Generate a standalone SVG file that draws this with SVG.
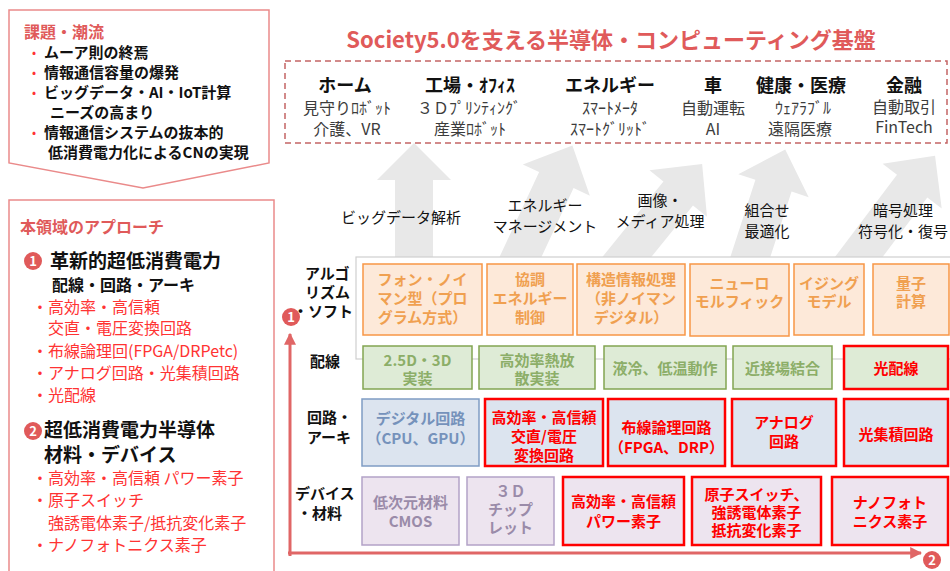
<svg xmlns="http://www.w3.org/2000/svg" width="950" height="571" viewBox="0 0 950 571">
<defs>
<style>
text{font-family:"Noto Sans CJK JP","Noto Sans",sans-serif}
.b{font-weight:bold}
.bk{fill:#111}
.rd{fill:#ff3333}
.hd{font-size:18px;font-weight:bold;fill:#111;text-anchor:middle}
.sb{font-size:16px;fill:#3c3c3c;text-anchor:middle}
.mid{font-size:15px;fill:#111;text-anchor:middle}
.lab{font-size:15px;font-weight:bold;fill:#111}
.box text{font-size:15px;font-weight:bold;text-anchor:middle}
.alg rect{fill:#fde9d9;stroke:#f79646;stroke-width:1.5}
.alg text{fill:#f0a050}
.wir rect{fill:#deebd6;stroke:#82a552;stroke-width:1.5}
.wir text{fill:#8cae68}
.cir rect{fill:#dce4ef;stroke:#7f9cc4;stroke-width:1.5}
.cir text{fill:#7592bb}
.dev rect{fill:#ede4ef;stroke:#b3a2c7;stroke-width:1.5}
.dev text{fill:#9a8ba9}
.box.hot rect{stroke:#ff0000;stroke-width:2.5}
.box.hot text{fill:#ff0000}
.flow{fill:#e8e8e8}
.axis{stroke:#e06666;stroke-width:3;fill:none}
.num{fill:#e05a5a}
.numt{fill:#fff;font-size:13px;font-weight:bold;text-anchor:middle}
</style>
<marker id="ah" viewBox="0 0 10 10" refX="9" refY="5" markerWidth="4" markerHeight="4" orient="auto">
<path d="M0,0 L10,5 L0,10 Z" fill="#e06666"/>
</marker>
</defs>
<rect width="950" height="571" fill="#ffffff"/>

<!-- top-left issues box -->
<g id="issues">
<path d="M9,10 H269 V163 L143,188 L9,163 Z" fill="#fff" stroke="#ea8a8a" stroke-width="1.5"/>
<text x="24" y="38" class="b" font-size="16" fill="#e05a5a">課題・潮流</text>
<g font-size="15" class="b bk">
<text x="44" y="58">ムーア則の終焉</text>
<text x="44" y="78">情報通信容量の爆発</text>
<text x="44" y="98">ビッグデータ・AI・IoT計算</text>
<text x="50" y="118">ニーズの高まり</text>
<text x="44" y="138">情報通信システムの抜本的</text>
<text x="48" y="158">低消費電力化によるCNの実現</text>
</g>
<g fill="#ff3333" font-size="12">
<text x="32" y="57">•</text>
<text x="32" y="77">•</text>
<text x="32" y="97">•</text>
<text x="32" y="137">•</text>
</g>
</g>

<!-- approach box -->
<g id="approach">
<rect x="9" y="200" width="265" height="380" fill="#fff" stroke="#ea8a8a" stroke-width="1.5"/>
<text x="20" y="233" font-size="16" class="b" fill="#e05a5a">本領域のアプローチ</text>
<circle cx="33" cy="261" r="9" class="num"/>
<text x="33" y="266" class="numt">1</text>
<text x="50" y="268" font-size="19" class="b bk">革新的超低消費電力</text>
<text x="52" y="291" font-size="16" class="b bk">配線・回路・アーキ</text>
<g font-size="16" class="rd">
<text x="32" y="313">・高効率・高信頼</text>
<text x="48" y="334">交直・電圧変換回路</text>
<text x="32" y="357">・布線論理回(FPGA/DRPetc)</text>
<text x="32" y="379">・アナログ回路・光集積回路</text>
<text x="32" y="401">・光配線</text>
</g>
<circle cx="33" cy="431" r="9" class="num"/>
<text x="33" y="436" class="numt">2</text>
<text x="44" y="437" font-size="19" class="b bk">超低消費電力半導体</text>
<text x="44" y="462" font-size="19" class="b bk">材料・デバイス</text>
<g font-size="16" class="rd">
<text x="32" y="484">・高効率・高信頼 パワー素子</text>
<text x="32" y="506">・原子スイッチ</text>
<text x="48" y="529">強誘電体素子/抵抗変化素子</text>
<text x="32" y="551">・ナノフォトニクス素子</text>
</g>
</g>

<!-- title -->
<text x="611" y="48" font-size="22" class="b" fill="#e05a5a" text-anchor="middle">Society5.0を支える半導体・コンピューティング基盤</text>

<!-- big flow arrows -->
<g id="flows" class="flow">
<path transform="translate(414,258)" d="M-19,20 V-78 H-37 L0,-115 L37,-78 H19 V20 Z"/>
<path transform="translate(520,258) rotate(25)" d="M-19,20 V-86 H-37 L0,-124 L37,-86 H19 V20 Z"/>
<path transform="translate(626,258) rotate(39)" d="M-19,20 V-83 H-37 L0,-121 L37,-83 H19 V20 Z"/>
<path transform="translate(750,258) rotate(18)" d="M-19,20 V-76 H-37 L0,-114 L37,-76 H19 V20 Z"/>
<path transform="translate(858,258) rotate(37)" d="M-19,20 V-90 H-37 L0,-128 L37,-90 H19 V20 Z"/>
</g>

<!-- application domains -->
<g id="domains">
<rect x="285" y="61" width="662" height="82" fill="none" stroke="#c46464" stroke-width="1.5" stroke-dasharray="6 4"/>
<g id="home"><text x="345" y="92" class="hd">ホーム</text><text x="347" y="114" class="sb">見守りﾛﾎﾞｯﾄ</text><text x="347" y="135" class="sb">介護、VR</text></g>
<g id="factory"><text x="470" y="92" class="hd">工場・ｵﾌｨｽ</text><text x="469" y="114" class="sb">３Ｄﾌﾟﾘﾝﾃｨﾝｸﾞ</text><text x="470" y="135" class="sb">産業ﾛﾎﾞｯﾄ</text></g>
<g id="energy"><text x="610" y="92" class="hd">エネルギー</text><text x="610" y="114" class="sb">ｽﾏｰﾄﾒｰﾀ</text><text x="610" y="135" class="sb">ｽﾏｰﾄｸﾞﾘｯﾄﾞ</text></g>
<g id="car"><text x="713" y="92" class="hd">車</text><text x="713" y="114" class="sb">自動運転</text><text x="713" y="135" class="sb">AI</text></g>
<g id="health"><text x="801" y="92" class="hd">健康・医療</text><text x="803" y="114" class="sb">ｳｪｱﾗﾌﾞﾙ</text><text x="800" y="135" class="sb">遠隔医療</text></g>
<g id="finance"><text x="904" y="92" class="hd">金融</text><text x="904" y="113" class="sb">自動取引</text><text x="904" y="133" class="sb">FinTech</text></g>
</g>

<!-- middle application labels -->
<g id="apps">
<text x="401" y="223" class="mid">ビッグデータ解析</text>
<text x="545" y="211" class="mid">エネルギー</text><text x="545" y="232" class="mid">マネージメント</text>
<text x="660" y="206" class="mid">画像・</text><text x="660" y="227" class="mid">メディア処理</text>
<text x="767" y="216" class="mid">組合せ</text><text x="767" y="237" class="mid">最適化</text>
<text x="903" y="216" class="mid">暗号処理</text><text x="903" y="237" class="mid">符号化・復号</text>
</g>

<!-- panel -->
<rect x="356" y="257" width="600" height="102" fill="#fff" stroke="#cfcfcf" stroke-width="1.2"/>

<!-- row labels -->
<g id="rowlabels" class="lab">
<text x="305" y="279">アルゴ</text>
<text x="305" y="298">リズム</text>
<text x="293" y="317">・ソフト</text>
<text x="310" y="367">配線</text>
<text x="307" y="423">回路・</text>
<text x="307" y="443">アーキ</text>
<text x="295" y="499">デバイス</text>
<text x="297" y="519">・材料</text>
</g>

<!-- algorithm row -->
<g id="a1" class="box alg"><rect x="363" y="264" width="119" height="71"/><text x="422.5" y="285">フォン・ノイ</text><text x="422.5" y="304">マン型（プロ</text><text x="422.5" y="323">グラム方式）</text></g>
<g id="a2" class="box alg"><rect x="487" y="264" width="86" height="71"/><text x="530" y="285">協調</text><text x="530" y="304">エネルギー</text><text x="530" y="323">制御</text></g>
<g id="a3" class="box alg"><rect x="577" y="264" width="108" height="71"/><text x="631" y="285">構造情報処理</text><text x="631" y="304">（非ノイマン</text><text x="631" y="323">デジタル）</text></g>
<g id="a4" class="box alg"><rect x="690" y="264" width="99" height="72"/><text x="739.5" y="289">ニューロ</text><text x="739.5" y="307">モルフィック</text></g>
<g id="a5" class="box alg"><rect x="794" y="264" width="70" height="71"/><text x="829" y="289">イジング</text><text x="829" y="307">モデル</text></g>
<g id="a6" class="box alg"><rect x="873" y="264" width="76" height="71"/><text x="911" y="289">量子</text><text x="911" y="307">計算</text></g>

<!-- wiring row -->
<g id="w1" class="box wir"><rect x="363" y="346" width="109" height="43"/><text x="417.5" y="366">2.5D・3D</text><text x="417.5" y="384">実装</text></g>
<g id="w2" class="box wir"><rect x="479" y="346" width="116" height="43"/><text x="537" y="366">高効率熱放</text><text x="537" y="384">散実装</text></g>
<g id="w3" class="box wir"><rect x="604" y="346" width="122" height="43"/><text x="665" y="374">液冷、低温動作</text></g>
<g id="w4" class="box wir"><rect x="733" y="346" width="99" height="43"/><text x="782.5" y="374">近接場結合</text></g>
<g id="w5" class="box wir hot"><rect x="844" y="346" width="104" height="43"/><text x="896" y="374">光配線</text></g>

<!-- circuit row -->
<g id="c1" class="box cir"><rect x="362" y="399" width="117" height="67"/><text x="420.5" y="424">デジタル回路</text><text x="420.5" y="444">（CPU、GPU）</text></g>
<g id="c2" class="box cir hot"><rect x="485" y="399" width="118" height="67"/><text x="544" y="423">高効率・高信頼</text><text x="544" y="442">交直/電圧</text><text x="544" y="461">変換回路</text></g>
<g id="c3" class="box cir hot"><rect x="608" y="399" width="117" height="67"/><text x="666.5" y="433">布線論理回路</text><text x="666.5" y="453">（FPGA、DRP）</text></g>
<g id="c4" class="box cir hot"><rect x="732" y="399" width="104" height="67"/><text x="784" y="428">アナログ</text><text x="784" y="447">回路</text></g>
<g id="c5" class="box cir hot"><rect x="844" y="399" width="104" height="67"/><text x="896" y="440">光集積回路</text></g>

<!-- device row -->
<g id="d1" class="box dev"><rect x="362" y="477" width="97" height="68"/><text x="410.5" y="508">低次元材料</text><text x="410.5" y="527">CMOS</text></g>
<g id="d2" class="box dev"><rect x="467" y="477" width="87" height="68"/><text x="510.5" y="497">３Ｄ</text><text x="510.5" y="515">チップ</text><text x="510.5" y="533">レット</text></g>
<g id="d3" class="box dev hot"><rect x="563" y="477" width="121" height="68"/><text x="623.5" y="507">高効率・高信頼</text><text x="623.5" y="527">パワー素子</text></g>
<g id="d4" class="box dev hot"><rect x="692" y="477" width="129" height="68"/><text x="756.5" y="500">原子スイッチ、</text><text x="756.5" y="518">強誘電体素子</text><text x="756.5" y="536">抵抗変化素子</text></g>
<g id="d5" class="box dev hot"><rect x="832" y="477" width="116" height="68"/><text x="890" y="508">ナノフォト</text><text x="890" y="527">ニクス素子</text></g>

<!-- connectors: axes -->
<g id="connectors">
<path class="axis" d="M290,556 V334" marker-end="url(#ah)"/>
<path class="axis" d="M288,553 H921" marker-end="url(#ah)"/>
</g>
<g id="axis1"><circle cx="291" cy="317" r="9" class="num"/><text x="291" y="322" class="numt">1</text></g>
<g id="axis2"><circle cx="932" cy="560" r="9" class="num"/><text x="932" y="565" class="numt">2</text></g>
</svg>
